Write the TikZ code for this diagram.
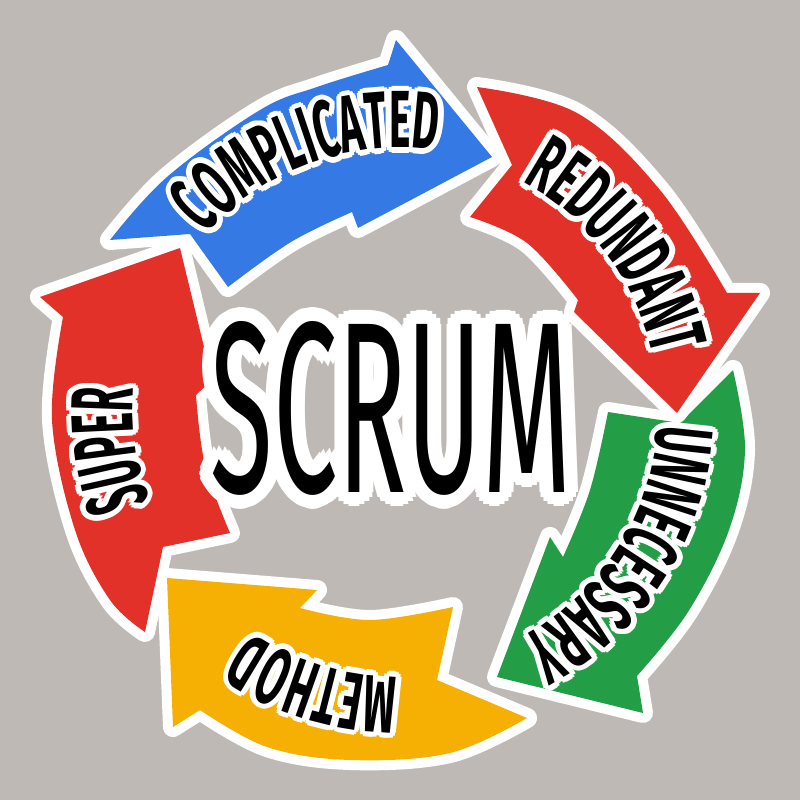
\documentclass[tikz,border=0pt]{standalone}
\usepackage{fontspec}
\usetikzlibrary{decorations.text,calc}
\newfontfamily\lblfam[FakeStretch=0.5]{Fira Sans}
\newfontfamily\supfam[FakeStretch=0.44]{Fira Sans}
\newfontfamily\scrumfam[FakeStretch=0.47]{Fira Sans}
\newcommand\lblfont{\lblfam\bfseries\fontsize{81}{81}\selectfont}
\newcommand\supfont{\supfam\bfseries\fontsize{88}{88}\selectfont}
\newcommand\scrumfont{\scrumfam\fontsize{244}{244}\selectfont}
\definecolor{bgc}{RGB}{191,185,182}
\definecolor{arrblue}{RGB}{52,121,228}
\definecolor{arrred}{RGB}{226,49,40}
\definecolor{arrgreen}{RGB}{36,158,70}
\definecolor{arryellow}{RGB}{245,176,3}
\tikzset{
  arrowshape/.style={fill=#1, preaction={draw=white, line width=20pt, line join=round}},
  halocopy/.style={inner sep=0pt},
}
\newcommand\ringsixteen[2]{%
  #1{#2*(1,0)}#1{#2*(0.924,0.383)}#1{#2*(0.707,0.707)}#1{#2*(0.383,0.924)}%
  #1{#2*(0,1)}#1{#2*(-0.383,0.924)}#1{#2*(-0.707,0.707)}#1{#2*(-0.924,0.383)}%
  #1{#2*(-1,0)}#1{#2*(-0.924,-0.383)}#1{#2*(-0.707,-0.707)}#1{#2*(-0.383,-0.924)}%
  #1{#2*(0,-1)}#1{#2*(0.383,-0.924)}#1{#2*(0.707,-0.707)}#1{#2*(0.924,-0.383)}}
\newcommand\ringeight[2]{%
  #1{#2*(1,0)}#1{#2*(0.707,0.707)}#1{#2*(0,1)}#1{#2*(-0.707,0.707)}%
  #1{#2*(-1,0)}#1{#2*(-0.707,-0.707)}#1{#2*(0,-1)}#1{#2*(0.707,-0.707)}}
\newcommand\ringtwelve[2]{%
  #1{#2*(1,0)}#1{#2*(0.866,0.5)}#1{#2*(0.5,0.866)}#1{#2*(0,1)}%
  #1{#2*(-0.5,0.866)}#1{#2*(-0.866,0.5)}#1{#2*(-1,0)}#1{#2*(-0.866,-0.5)}%
  #1{#2*(-0.5,-0.866)}#1{#2*(0,-1)}#1{#2*(0.5,-0.866)}#1{#2*(0.866,-0.5)}}
\newcommand\ringfour[2]{%
  #1{#2*(0.707,0.707)}#1{#2*(-0.707,0.707)}#1{#2*(-0.707,-0.707)}#1{#2*(0.707,-0.707)}}
% current label parameters
\newcommand\curfont{}\newcommand\currad{}\newcommand\curstart{}\newcommand\curend{}\newcommand\curtext{}
\newcommand\lblpass[1]{%
  \path[decorate,decoration={text along path,text align=center,text color=white,text={|\color{black}\color{white}\curfont|\curtext}}]
    ($(ctr)+#1+(\curstart:\currad)$) arc[start angle=\curstart,end angle=\curend,radius=\currad];}
% #1 font, #2 radius, #3 start angle, #4 end angle, #5 text
\newcommand\arclabel[5]{%
  \renewcommand\curfont{#1}\renewcommand\currad{#2}\renewcommand\curstart{#3}%
  \renewcommand\curend{#4}\renewcommand\curtext{#5}%
  \ringtwelve\lblpass{5.5}%
  \ringfour\lblpass{2.8}%
  \path[decorate,decoration={text along path,text align=center,text color=black,text={|#1|#5}}]
    ($(ctr)+(#3:#2)$) arc[start angle=#3,end angle=#4,radius=#2];
}
\newcommand\scrumpass[1]{\node[halocopy] at ($(scrumpos)+#1$) {\color{black}\color{white}\scrumfont SCRUM};}
\begin{document}
\begin{tikzpicture}[x=1pt,y=1pt]
\useasboundingbox (0,0) rectangle (800,800);
\fill[bgc] (0,0) rectangle (800,800);
\coordinate (ctr) at (400,390);
\coordinate (scrumpos) at (391,392);

% green arrow
\path[arrowshape=arrgreen] (733,430) -- plot[smooth,tension=0.6] coordinates {(733,430) (745,350) (729,270) (688,188) (637,124)}
  -- (643,87) -- (497,123) -- (550,263) -- (563,243)
  -- plot[smooth,tension=0.6] coordinates {(563,243) (590,310) (608,388)}
  -- (680,377) -- cycle;

% red right arrow
\path[arrowshape=arrred] (477,713) -- plot[smooth,tension=0.6] coordinates {(477,713) (577,687) (660,610) (727,507)}
  -- (760,507) -- (677,387) -- (574,488) -- (578,500)
  -- plot[smooth,tension=0.6] coordinates {(578,500) (527,557) (470,583)}
  -- (512,635) -- cycle;

% blue arrow
\path[arrowshape=arrblue] (110,560) -- plot[smooth,tension=0.6] coordinates {(110,560) (167,623) (260,690) (317,713) (388,735)}
  -- (396,760) -- (492,643) -- (358,572) -- (352,588)
  -- plot[smooth,tension=0.6] coordinates {(352,588) (291,558) (228,513)}
  -- (190,566) -- cycle;

% yellow arrow
\path[arrowshape=arryellow] (527,82) -- plot[smooth,tension=0.6] coordinates {(527,82) (450,47) (350,40) (267,53) (200,90)}
  -- (173,73) -- (167,222) -- (317,210) -- (300,192)
  -- plot[smooth,tension=0.6] coordinates {(300,192) (370,180) (453,193)}
  -- (437,120) -- cycle;

% red left arrow
\path[arrowshape=arrred] (145,168) -- plot[smooth,tension=0.6] coordinates {(145,168) (110,200) (75,270) (52,380) (63,483)}
  -- (40,503) -- (180,552) -- (212,420) -- (196,405)
  -- plot[smooth,tension=0.6] coordinates {(196,405) (205,335) (230,267)}
  -- (163,253) -- cycle;

% SCRUM with white halo
\ringsixteen\scrumpass{14}
\ringsixteen\scrumpass{9.5}
\ringeight\scrumpass{5}
\node[text=black, inner sep=0pt] (scrum) at (scrumpos) {\color{white}\color{black}\scrumfont SCRUM};

% curved labels
\arclabel{\lblfont}{262}{160}{60}{COMPLICATED}
\arclabel{\lblfont}{259}{87}{-13}{REDUNDANT}
\arclabel{\lblfont}{258}{17.4}{-82.6}{UNNECESSARY}
\arclabel{\lblfont}{267}{302.75}{202.75}{METHOD}
\arclabel{\supfont}{267}{237.75}{137.75}{SUPER}
\end{tikzpicture}
\end{document}
